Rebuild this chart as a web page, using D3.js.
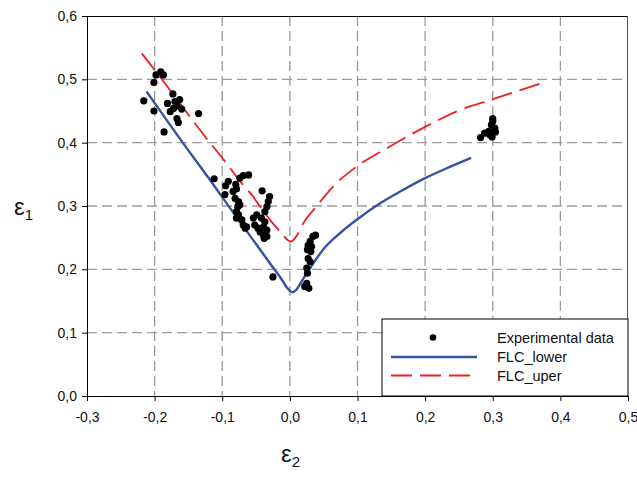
<!DOCTYPE html>
<html>
<head>
<meta charset="utf-8">
<script src="https://cdn.jsdelivr.net/npm/d3@7"></script>
<style>
  body { margin: 0; background: #fff; }
  svg text { font-family: "Liberation Sans", Arial, sans-serif; }
</style>
</head>
<body>
<svg id="chart" width="637" height="480"></svg>
<script>
// ---- data (eps2, eps1) ----
const xTicks = [-0.3, -0.2, -0.1, 0.0, 0.1, 0.2, 0.3, 0.4, 0.5];
const yTicks = [0.0, 0.1, 0.2, 0.3, 0.4, 0.5, 0.6];

const expData = [
  [-0.198, 0.507], [-0.191, 0.512], [-0.187, 0.507], [-0.201, 0.495], [-0.216, 0.466],
  [-0.201, 0.450], [-0.173, 0.477], [-0.181, 0.462], [-0.170, 0.465], [-0.163, 0.468],
  [-0.172, 0.454], [-0.177, 0.449], [-0.167, 0.458], [-0.160, 0.453], [-0.167, 0.438],
  [-0.165, 0.432], [-0.135, 0.446], [-0.186, 0.417],
  [-0.112, 0.343], [-0.091, 0.339], [-0.095, 0.332], [-0.080, 0.334], [-0.074, 0.344],
  [-0.069, 0.348], [-0.061, 0.349], [-0.096, 0.318], [-0.084, 0.323], [-0.079, 0.327],
  [-0.081, 0.312], [-0.076, 0.307], [-0.077, 0.299], [-0.074, 0.302], [-0.079, 0.291],
  [-0.076, 0.286], [-0.079, 0.281], [-0.071, 0.278], [-0.069, 0.270], [-0.064, 0.267],
  [-0.066, 0.265], [-0.041, 0.324], [-0.030, 0.315], [-0.032, 0.307], [-0.034, 0.299],
  [-0.037, 0.291], [-0.049, 0.286], [-0.054, 0.281], [-0.042, 0.281], [-0.037, 0.275],
  [-0.052, 0.270], [-0.047, 0.265], [-0.039, 0.267], [-0.034, 0.262], [-0.044, 0.259],
  [-0.039, 0.254], [-0.034, 0.252], [-0.038, 0.249], [-0.025, 0.188],
  [0.034, 0.252], [0.038, 0.254], [0.030, 0.244], [0.027, 0.238], [0.032, 0.236],
  [0.026, 0.231], [0.031, 0.228], [0.027, 0.217], [0.030, 0.212], [0.025, 0.202],
  [0.026, 0.194], [0.025, 0.178], [0.028, 0.170], [0.022, 0.173],
  [0.282, 0.408], [0.288, 0.415], [0.294, 0.418], [0.298, 0.428], [0.300, 0.434],
  [0.303, 0.423], [0.304, 0.417], [0.296, 0.412], [0.299, 0.409], [0.300, 0.438]
];

const flcLower = [
  [-0.212, 0.481], [-0.151, 0.389], [-0.118, 0.341], [-0.08, 0.284], [-0.05, 0.240],
  [-0.025, 0.203], [-0.012, 0.184], [-0.005, 0.172], [0.0, 0.166], [0.004, 0.164],
  [0.009, 0.167], [0.018, 0.182], [0.030, 0.202], [0.049, 0.231], [0.074, 0.257],
  [0.0985, 0.278], [0.130, 0.302], [0.165, 0.324], [0.200, 0.344], [0.235, 0.361],
  [0.268, 0.376]
];

const flcUper = [
  [-0.219, 0.541], [-0.175, 0.480], [-0.133, 0.420], [-0.092, 0.365], [-0.069, 0.333],
  [-0.059, 0.321], [-0.037, 0.289], [-0.027, 0.275], [-0.012, 0.257], [-0.003, 0.246],
  [0.002, 0.244], [0.010, 0.253], [0.020, 0.273], [0.039, 0.299], [0.065, 0.332],
  [0.0985, 0.362], [0.148, 0.394], [0.200, 0.425], [0.246, 0.449], [0.298, 0.468],
  [0.335, 0.481], [0.369, 0.493]
];

const legendItems = ["Experimental data", "FLC_lower", "FLC_uper"];

// ---- layout ----
const W = 637, H = 480;
const margin = { top: 16, right: 9, bottom: 84, left: 87 };
const iw = W - margin.left - margin.right;
const ih = H - margin.top - margin.bottom;

const BLUE = "#3553a4", RED = "#ec2027", GRID = "#9b9b9b";

const svg = d3.select("#chart");
const g = svg.append("g").attr("transform", `translate(${margin.left},${margin.top})`);

const x = d3.scaleLinear().domain([-0.3, 0.5]).range([0, iw]);
const y = d3.scaleLinear().domain([0, 0.6]).range([ih, 0]);

const fmt = d => d3.format(".1f")(d).replace(".", ",").replace("−", "-");

// grid
g.append("g").selectAll("line").data(xTicks.slice(1, -1)).join("line")
  .attr("x1", d => x(d)).attr("x2", d => x(d))
  .attr("y1", 0).attr("y2", ih)
  .attr("stroke", GRID).attr("stroke-width", 1.3).attr("stroke-dasharray", "10,5");
g.append("g").selectAll("line").data(yTicks.slice(1, -1)).join("line")
  .attr("y1", d => y(d)).attr("y2", d => y(d))
  .attr("x1", 0).attr("x2", iw)
  .attr("stroke", GRID).attr("stroke-width", 1.3).attr("stroke-dasharray", "10,5");

// frame (top + right)
g.append("line").attr("x1", 0).attr("x2", iw).attr("y1", 0.5).attr("y2", 0.5)
  .attr("stroke", "#000").attr("stroke-width", 1);
g.append("line").attr("x1", iw - 0.5).attr("x2", iw - 0.5).attr("y1", 0).attr("y2", ih)
  .attr("stroke", "#555").attr("stroke-width", 1);

// axes
const xAxis = g.append("g").attr("transform", `translate(0,${ih})`)
  .call(d3.axisBottom(x).tickValues(xTicks).tickFormat(fmt).tickSize(5).tickPadding(11));
const yAxis = g.append("g")
  .call(d3.axisLeft(y).tickValues(yTicks).tickFormat(fmt).tickSize(5).tickPadding(5));
[xAxis, yAxis].forEach(a => {
  a.selectAll("text").attr("font-size", 14).attr("fill", "#111")
    .attr("font-family", "Liberation Sans, Arial, sans-serif");
  a.select(".domain").attr("stroke", "#000");
  a.selectAll(".tick line").attr("stroke", "#000");
});

// curves
const line = d3.line().x(d => x(d[0])).y(d => y(d[1])).curve(d3.curveMonotoneX);
g.append("path").datum(flcLower).attr("d", line)
  .attr("fill", "none").attr("stroke", BLUE).attr("stroke-width", 2.4);
g.append("path").datum(flcUper).attr("d", line)
  .attr("fill", "none").attr("stroke", RED).attr("stroke-width", 1.8)
  .attr("stroke-dasharray", "21,8");

// experimental points
g.append("g").selectAll("circle").data(expData).join("circle")
  .attr("cx", d => x(d[0])).attr("cy", d => y(d[1])).attr("r", 3.6)
  .attr("fill", "#000");

// legend
const lg = g.append("g").attr("transform", `translate(${iw - 246},${ih - 77})`);
lg.append("rect").attr("width", 246).attr("height", 77)
  .attr("fill", "#fff").attr("stroke", "#000").attr("stroke-width", 1);
const rowY = [18.5, 38, 56.5];
lg.append("circle").attr("cx", 51).attr("cy", rowY[0]).attr("r", 3.3).attr("fill", "#000");
lg.append("line").attr("x1", 9).attr("x2", 95).attr("y1", rowY[1]).attr("y2", rowY[1])
  .attr("stroke", BLUE).attr("stroke-width", 2.4);
lg.append("line").attr("x1", 9).attr("x2", 88).attr("y1", rowY[2]).attr("y2", rowY[2])
  .attr("stroke", RED).attr("stroke-width", 1.8).attr("stroke-dasharray", "21,8");
lg.selectAll("text.lbl").data(legendItems).join("text").attr("class", "lbl")
  .attr("x", 115).attr("y", (d, i) => rowY[i]).attr("dy", "0.35em")
  .attr("font-size", 14.5).attr("fill", "#111").text(d => d);

// axis titles
const t2 = svg.append("text").attr("x", 281).attr("y", 462)
  .attr("font-family", "Liberation Serif, Times New Roman, serif").attr("font-size", 24).attr("fill", "#111");
t2.append("tspan").text("ε");
t2.append("tspan").attr("font-size", 15).attr("dy", 5).text("2");
const t1 = svg.append("text").attr("x", 14).attr("y", 215)
  .attr("font-family", "Liberation Serif, Times New Roman, serif").attr("font-size", 24).attr("fill", "#111");
t1.append("tspan").text("ε");
t1.append("tspan").attr("font-size", 15).attr("dy", 5).text("1");
</script>
</body>
</html>
